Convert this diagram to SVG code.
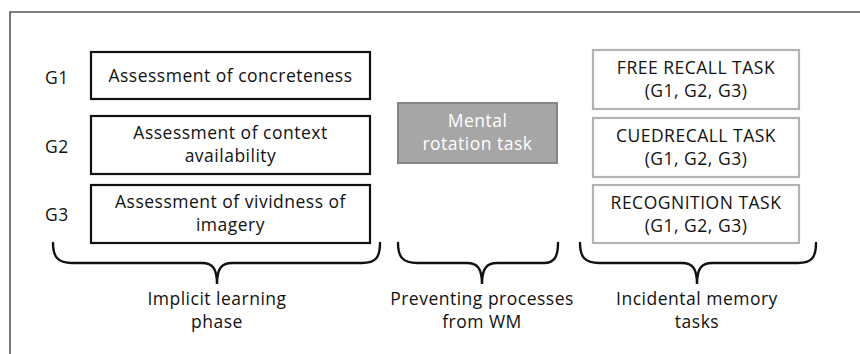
<svg xmlns="http://www.w3.org/2000/svg" width="860" height="354" viewBox="0 0 860 354">
<style>
text{font-family:"Open Sans","Noto Sans","Liberation Sans",sans-serif;font-size:17.5px;letter-spacing:0.5px;fill:#111;text-anchor:middle}
.blk{fill:#fff;stroke:#111;stroke-width:2.2}
.gry{fill:#fff;stroke:#b3b3b3;stroke-width:2.2}
.rot{fill:#a6a6a6;stroke:#858585;stroke-width:2}
.brace{fill:none;stroke:#111;stroke-width:2.4;stroke-linecap:round}
.w{fill:#fff}
.g{text-anchor:start}
</style>
<rect width="860" height="354" fill="#fff"/>
<path d="M10,354 V12 H860" fill="none" stroke="#555" stroke-width="1.6"/>
<g id="G1"><text class="g" x="45" y="84">G1</text></g>
<g id="G2"><text class="g" x="45" y="153">G2</text></g>
<g id="G3"><text class="g" x="45" y="221">G3</text></g>
<g id="concreteness"><rect class="blk" x="91" y="52" width="279" height="47"/><text x="230.5" y="82">Assessment of concreteness</text></g>
<g id="context"><rect class="blk" x="91" y="116" width="279" height="58"/><text x="230.5" y="139">Assessment of context</text><text x="230.5" y="162">availability</text></g>
<g id="vividness"><rect class="blk" x="91" y="185" width="279" height="58"/><text x="230.5" y="208">Assessment of vividness of</text><text x="230.5" y="231">imagery</text></g>
<g id="mental"><rect class="rot" x="398" y="103" width="159" height="60"/><text class="w" x="477.5" y="127">Mental</text><text class="w" x="477.5" y="150">rotation task</text></g>
<g id="free"><rect class="gry" x="593" y="50" width="206" height="59"/><text x="696" y="74">FREE RECALL TASK</text><text x="696" y="97">(G1, G2, G3)</text></g>
<g id="cued"><rect class="gry" x="593" y="118" width="206" height="59"/><text x="696" y="142">CUEDRECALL TASK</text><text x="696" y="165">(G1, G2, G3)</text></g>
<g id="recog"><rect class="gry" x="593" y="185" width="206" height="58"/><text x="696" y="209">RECOGNITION TASK</text><text x="696" y="232">(G1, G2, G3)</text></g>
<g id="connectors">
<path class="brace" d="M53,243 C53,257 58,263 72,263 L202,263 C212,263 217,268 217,284 C217,268 222,263 232,263 L362,263 C376,263 380,257 380,243"/>
<path class="brace" d="M398,243 C398,257 403,263 417,263 L467,263 C477,263 482,268 482,284 C482,268 487,263 497,263 L544,263 C554,263 558,257 558,243"/>
<path class="brace" d="M580,243 C580,257 585,263 599,263 L682,263 C692,263 697,268 697,284 C697,268 702,263 712,263 L798,263 C812,263 816,257 816,243"/>
</g>
<g id="lbl-implicit"><text x="217" y="305">Implicit learning</text><text x="217" y="328">phase</text></g>
<g id="lbl-preventing"><text x="482" y="305">Preventing processes</text><text x="482" y="328">from WM</text></g>
<g id="lbl-incidental"><text x="697" y="305">Incidental memory</text><text x="697" y="328">tasks</text></g>
</svg>
